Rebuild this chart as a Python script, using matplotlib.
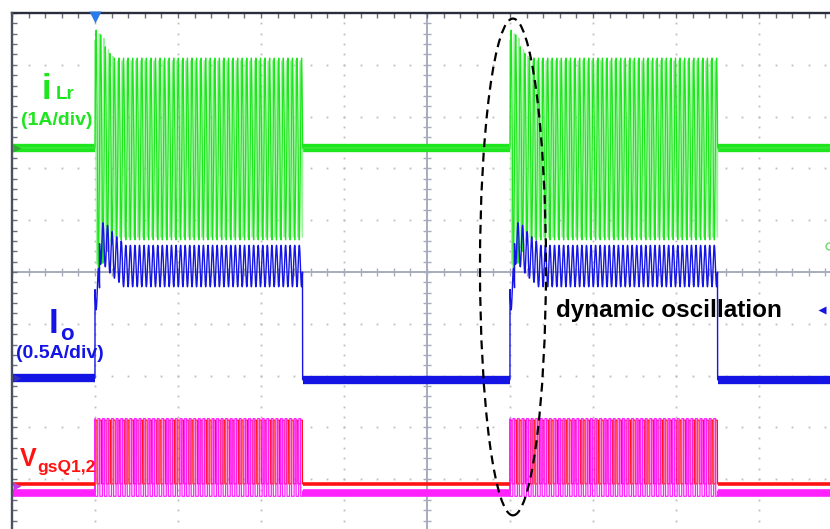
import numpy as np
import matplotlib
matplotlib.use('Agg')
import matplotlib.pyplot as plt
from matplotlib.patches import Ellipse

# scope screen: 83 px per horizontal div, 51.8 px per vertical div
PX_X0, PX_DX = 12, 83.0
PX_Y0, PX_DY = 272, 51.8

# ---- values (divisions) ----
burst_on = [1.0, 6.0]
burst_off = [3.5, 8.5]
t_sw = 0.055                       # switching period

ilr_base = 2.39                    # iLr idle level
ilr_swing = [0.62, 4.13]           # iLr min / max in steady burst
ilr_first_peaks = [4.67, 4.58, 4.35, 4.22]

io_base = [-2.05, -2.08]           # Io before / after burst
io_ripple = 0.40
io_mean = 0.115
io_first_means = [-0.33, 0.55, 0.5, 0.38, 0.28, 0.2]

vgs_high = -2.86
vgs_low_q1 = -4.09                 # red trace
vgs_low_q2 = -4.23                 # magenta trace
vgs_duty = 0.42

ellipse_c = [6.036, 0.097]
ellipse_wh = [0.795, 9.59]

C_GREEN = '#1ee61e'
C_LGREEN = '#9cf39c'
C_BLUE = '#1414e4'
C_RED = '#ff1212'
C_MAG = '#ff22ff'
FONT = 'Liberation Sans'


def px(x, y):
    return (x - PX_X0) / PX_DX, (PX_Y0 - y) / PX_DY


t = np.linspace(0, 9.86, 16000)

ilr = np.full_like(t, ilr_base)
ilr2 = np.full_like(t, ilr_base)
io = np.full_like(t, io_base[0])
q1 = np.full_like(t, vgs_low_q1)
q2 = np.full_like(t, vgs_low_q2)
centre = (ilr_swing[0] + ilr_swing[1]) / 2

for n, (ts, te) in enumerate(zip(burst_on, burst_off)):
    m = (t >= ts) & (t < te)
    ph = (t[m] - ts) / t_sw
    k = np.floor(ph).astype(int)
    top = np.full(k.shape, ilr_swing[1])
    for i, p in enumerate(ilr_first_peaks):
        top[k == i] = p
    s = np.sin(2 * np.pi * ph)
    ilr[m] = centre + (top - centre) * s
    ilr2[m] = centre + (top - centre) * 0.97 * np.sin(2 * np.pi * (ph + 0.3))
    mean = np.full(k.shape, io_mean)
    for i, v in enumerate(io_first_means):
        mean[k == i] = v
    io[m] = mean + io_ripple * np.sin(2 * np.pi * (ph + 0.5))
    q1[m] = np.where(ph % 1 < vgs_duty, vgs_high, vgs_low_q1)
    q2[m] = np.where((ph + 0.38) % 1 < vgs_duty, vgs_high + 0.03,
                     vgs_low_q2 - 0.1)
    io[t >= te] = io_base[1]

fig = plt.figure(figsize=(8.3, 5.29), dpi=100)
ax = fig.add_axes([0, 0, 1, 1])
x0, y0 = px(0, 0)
x1, y1 = px(830, 529)
ax.set_xlim(x0, x1)
ax.set_ylim(y1, y0)
ax.axis('off')

# grid dots
xs_minor = np.arange(0, 10.001, 0.2)
ys_minor = np.arange(-5, 5.001, 0.2)
for k in range(1, 10):
    if k != 5:
        ax.plot(np.full(len(ys_minor), k), ys_minor, 's', ms=1.3,
                color='#bdbdbd', mec='none', zorder=1)
for k in range(-4, 5):
    if k != 0:
        ax.plot(xs_minor, np.full(len(xs_minor), k), 's', ms=1.3,
                color='#bdbdbd', mec='none', zorder=1)

# centre cross with ticks
ax.plot([0, 10], [0, 0], color='#a6acba', lw=1.4, zorder=1)
ax.plot([5, 5], [-5, 5], color='#a6acba', lw=1.4, zorder=1)
ax.vlines(xs_minor, -0.07, 0.07, color='#a6acba', lw=1.0, zorder=1)
ax.hlines(ys_minor, 5 - 0.05, 5 + 0.05, color='#a6acba', lw=1.0, zorder=1)

# border
ax.plot([0, 10], [5, 5], color='#2a2e3c', lw=1.7, zorder=7)
ax.vlines(xs_minor, 4.9, 5, color='#6a7080', lw=1.0, zorder=2)
ax.plot([0, 0], [-5, 5], color='#4a5060', lw=1.7, zorder=7)
ax.hlines(ys_minor, 0, 0.06, color='#6a7080', lw=1.0, zorder=2)

# idle bands (outside bursts)
idle = [(0, burst_on[0]), (burst_off[0], burst_on[1]), (burst_off[1], t[-1])]
for i, (a, b) in enumerate(idle):
    ax.plot([a, b], [ilr_base, ilr_base], color=C_GREEN, lw=6, zorder=3,
            solid_capstyle='butt')
    base_io = io_base[0] if i == 0 else io_base[1]
    ax.plot([a, b], [base_io, base_io], color=C_BLUE, lw=6, zorder=4,
            solid_capstyle='butt')
    ax.plot([a, b], [vgs_low_q2 - 0.03, vgs_low_q2 - 0.03], color=C_MAG, lw=5.5,
            zorder=5, solid_capstyle='butt')
    ax.plot([a, b], [vgs_low_q1, vgs_low_q1], color=C_RED, lw=2.6, zorder=6,
            solid_capstyle='butt')

# traces
ax.plot(t, ilr2, color=C_LGREEN, lw=0.9, zorder=3)
ax.plot(t, ilr, color=C_GREEN, lw=0.9, zorder=3)
ax.plot(t, io, color=C_BLUE, lw=1.0, zorder=4)
ax.plot(t, q1, color=C_RED, lw=0.9, zorder=5)
ax.plot(t, q2, color=C_MAG, lw=0.9, zorder=5)

# markers
ax.plot(*px(95, 17), marker='v', ms=8, color='#2a7de8', mec='none', zorder=8,
        clip_on=False)
ax.plot(*px(17, 148), marker='>', ms=6, color='#33aa33', mec='none', zorder=8)
ax.plot(*px(17, 378), marker='>', ms=6, color='#3030c0', mec='none', zorder=8)
ax.plot(*px(17, 486), marker='>', ms=6, color='#c040e0', mec='none', zorder=8)
ax.plot(*px(822, 310), marker='<', ms=6, color=C_BLUE, mec='none', zorder=8)
ax.plot(*px(829, 246), marker='o', ms=5, mfc='none', mec='#66dd66', mew=1,
        zorder=8)


# labels
def label(xp, yp, s, size, color):
    ax.text(*px(xp, yp), s, fontsize=size, color=color, family=FONT,
            fontweight='bold', ha='left', va='baseline', zorder=8)


label(42, 99, 'i', 25, C_GREEN)
label(56, 99, 'Lr', 13.5, C_GREEN)
label(21, 125, '(1A/div)', 14, C_GREEN)
label(49, 333, 'I', 25, C_BLUE)
label(60, 340, 'o', 16, C_BLUE)
label(16, 358, '(0.5A/div)', 14, C_BLUE)
label(20, 466, 'V', 18, C_RED)
label(37, 472, 'gsQ1,2', 12.5, C_RED)
label(556, 317, 'dynamic oscillation', 17.5, 'black')

ax.add_patch(Ellipse(ellipse_c, ellipse_wh[0], ellipse_wh[1], fill=False,
                     ls=(0, (4, 2.5)), lw=1.6, color='black', zorder=9))

fig.savefig('out.png', dpi=100)
